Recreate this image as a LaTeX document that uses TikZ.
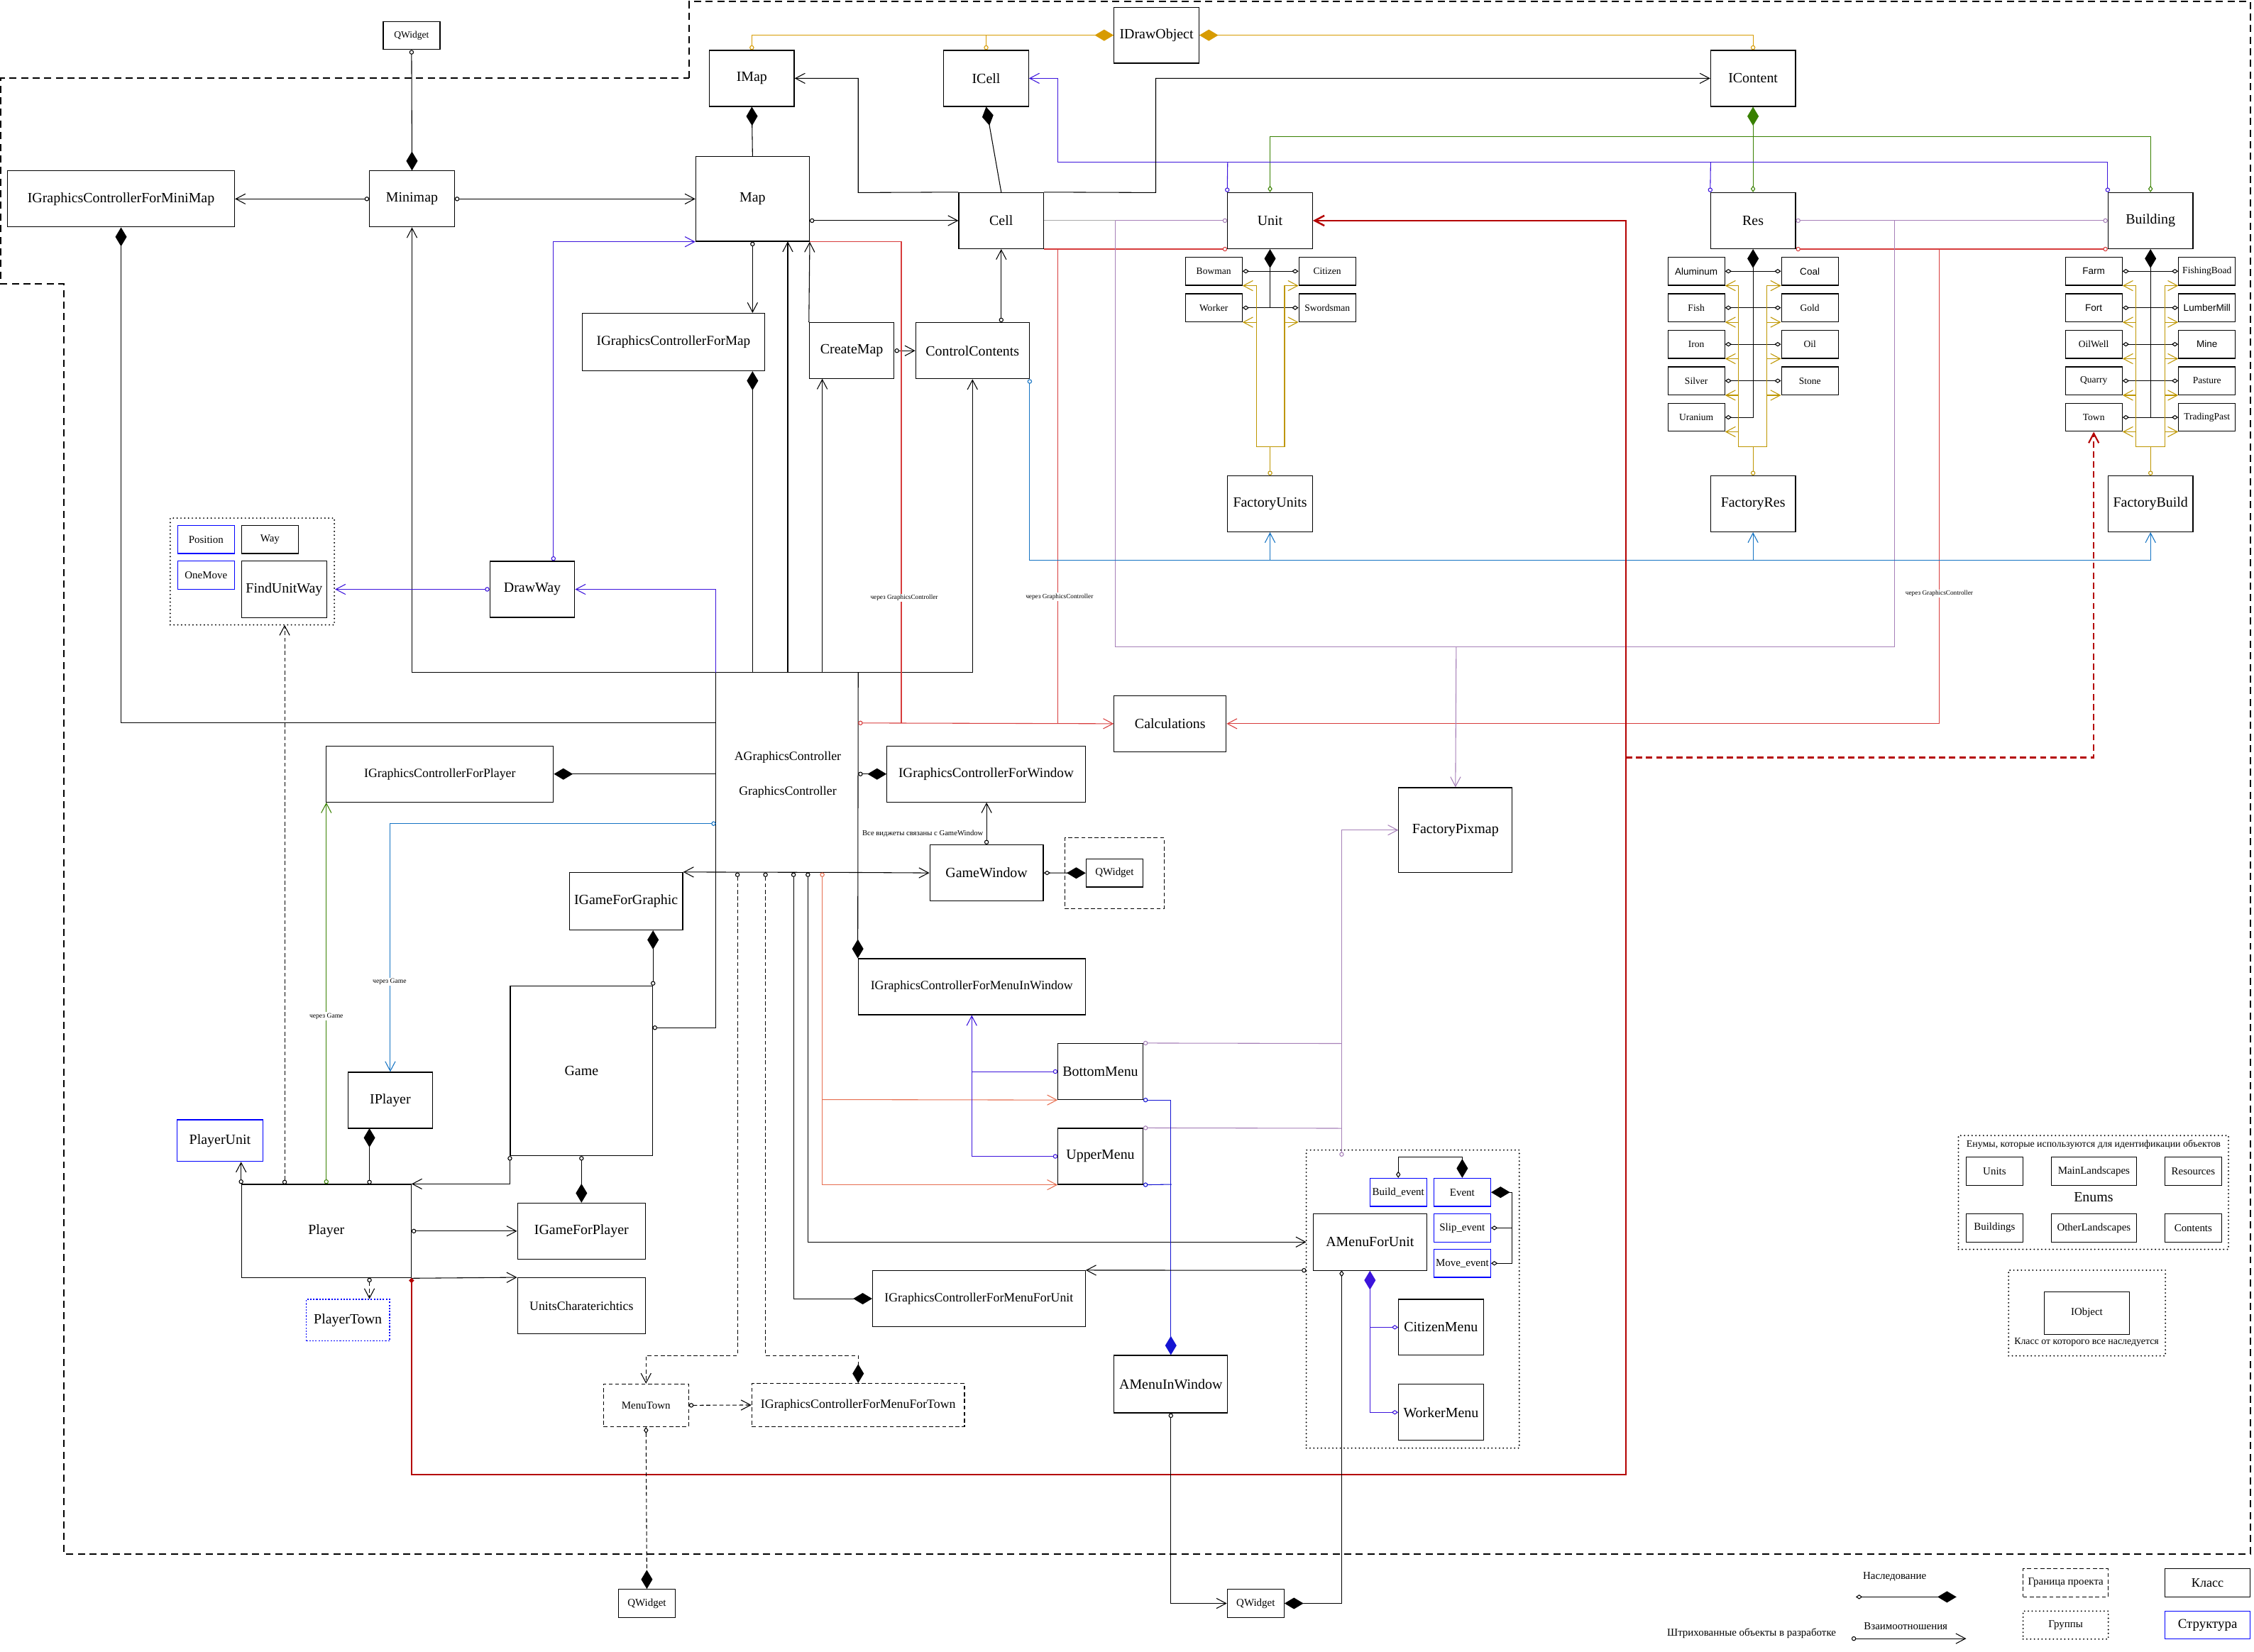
\documentclass[tikz,border=0pt]{standalone}
\usepackage{fontspec}
\setmainfont{Liberation Serif}
\newfontfamily\arialf{Liberation Sans}
\usetikzlibrary{arrows.meta, positioning, calc}

\definecolor{gld}{RGB}{215,155,0}
\definecolor{grn}{RGB}{56,128,0}
\definecolor{vio}{RGB}{60,20,220}
\definecolor{bluD}{RGB}{20,20,210}
\definecolor{lav}{RGB}{166,128,184}
\definecolor{rdl}{RGB}{215,60,60}
\definecolor{rdd}{RGB}{180,0,0}
\definecolor{blu}{RGB}{20,115,195}
\definecolor{yel}{RGB}{190,150,0}
\definecolor{sal}{RGB}{230,110,80}
\definecolor{gry}{RGB}{170,170,170}
\definecolor{strc}{RGB}{0,0,255}

\newcommand\fbig{\fontsize{5.6}{6.2}\selectfont}
\newcommand\fmed{\fontsize{5}{5.6}\selectfont}
\newcommand\fmid{\fontsize{4.2}{4.8}\selectfont}
\newcommand\fnote{\fontsize{3.9}{4.5}\selectfont}
\newcommand\fsm{\fontsize{3.8}{4.3}\selectfont}
\newcommand\ftiny{\fontsize{2.6}{3}\selectfont}

\tikzset{
    oarr/.tip={Straight Barb[length=3.8pt,width=4pt]},
    circ/.tip={Circle[open,length=1.8pt]},
    odia/.tip={Diamond[open,length=2.6pt,width=1.8pt]},
    fdia/.tip={Diamond[length=7.5pt,width=4.5pt]},
    cls/.style={draw, line width=0.35pt, inner sep=0pt, font=\fbig, minimum width=1.18cm, minimum height=0.78cm},
    sub/.style={draw, line width=0.35pt, inner sep=0pt, font=\fmid, minimum width=0.79cm, minimum height=0.39cm},
    leaf/.style={sub, font=\fsm},
    strct/.style={draw=strc},
    wip/.style={dash pattern=on 1.6pt off 1pt},
    grp/.style={draw, line width=0.6pt, line cap=round, dash pattern=on 0pt off 1.5pt},
    border/.style={line width=0.6pt, dash pattern=on 2.8pt off 1.8pt},
    lbl/.style={font=\ftiny, fill=white, inner sep=0.4pt}
}

\begin{document}
\begin{tikzpicture}[x=0.02cm, y=-0.02cm, line width=0.3pt]
\useasboundingbox (0,0) rectangle (1568,1149);

% project border
\draw[border] (479.5,54.3) -- (479.5,1) -- (1565.5,1) -- (1565.5,1081) -- (44.3,1081) -- (44.3,197.5) -- (0.6,197.5) -- (0.6,54.3) -- cycle;

% top classes
\node[leaf] (qwtop) at (286.3,24.7) {QWidget};
\node[cls] (idraw) at (804.5,24.5) {IDrawObject};
\node[cls] (imap) at (523,54.5) {IMap};
\node[cls] (icell) at (686,54.5) {ICell};
\node[cls] (icontent) at (1219.5,54.5) {IContent};
\node[cls, minimum width=3.16cm] (gcmini) at (84.2,138.4) {IGraphicsControllerForMiniMap};
\node[cls] (minimap) at (286.6,138.4) {Minimap};
\node[cls, minimum width=1.58cm, minimum height=1.18cm] (map) at (523.5,138.4) {Map};
\node[cls] (cell) at (696.5,153.5) {Cell};
\node[cls] (unit) at (883.5,153.5) {Unit};
\node[cls] (res) at (1219.5,153.5) {Res};
\node[cls] (building) at (1496,153.5) {Building};

\node[cls, minimum width=2.54cm, minimum height=0.8cm, font=\fontsize{5.4}{6}\selectfont] (gcmap) at (468.5,238) {IGraphicsControllerForMap};
\node[cls] (createmap) at (592.5,244) {CreateMap};
\node[cls, minimum width=1.58cm] (ctrlcont) at (676.5,244) {ControlContents};

% units
\node[leaf] (bowman) at (844.3,188.7) {Bowman};
\node[leaf] (worker) [below=0.106cm of bowman] {Worker};
\node[leaf] (citizen) at (923.3,188.7) {Citizen};
\node[leaf] (swordsman) [below=0.106cm of citizen] {Swordsman};

% resources
\node[leaf, font=\arialf\fsm] (aluminum) at (1180,188.7) {Aluminum};
\node[leaf] (fish) [below=0.106cm of aluminum] {Fish};
\node[leaf] (iron) [below=0.106cm of fish] {Iron};
\node[leaf] (silver) [below=0.106cm of iron] {Silver};
\node[leaf] (uranium) [below=0.106cm of silver] {Uranium};
\node[leaf, font=\arialf\fsm] (coal) at (1259,188.7) {Coal};
\node[leaf] (gold) [below=0.106cm of coal] {Gold};
\node[leaf] (oil) [below=0.106cm of gold] {Oil};
\node[leaf] (stone) [below=0.106cm of oil] {Stone};

% buildings
\node[leaf, font=\arialf\fsm] (farm) at (1456.5,188.7) {Farm};
\node[leaf, font=\arialf\fsm] (fort) [below=0.106cm of farm] {Fort};
\node[leaf] (oilwell) [below=0.106cm of fort] {OilWell};
\node[leaf] (quarry) [below=0.106cm of oilwell] {Quarry};
\node[leaf] (town) [below=0.106cm of quarry] {Town};
\node[leaf] (fishing) at (1535.3,188.7) {FishingBoad};
\node[leaf, font=\arialf\fsm] (lumber) [below=0.106cm of fishing] {LumberMill};
\node[leaf, font=\arialf\fsm] (mine) [below=0.106cm of lumber] {Mine};
\node[leaf] (pasture) [below=0.106cm of mine] {Pasture};
\node[leaf] (trading) [below=0.106cm of pasture] {TradingPast};

\node[cls] (factunits) at (883.5,350.5) {FactoryUnits};
\node[cls] (factres) at (1219.5,350.5) {FactoryRes};
\node[cls] (factbuild) at (1496,350.5) {FactoryBuild};

% path finding group
\node[grp, minimum width=2.284cm, minimum height=1.486cm] (fuwgrp) at (175.5,397.6) {};
\node[sub, strct] (position) at (143.3,375.3) {Position};
\node[sub] (way) at (187.8,375.3) {Way};
\node[sub, strct] (onemove) at (143.3,400.1) {OneMove};
\node[cls, minimum width=1.186cm, minimum height=0.79cm] (findway) at (197.7,410) {FindUnitWay};
\node[cls] (drawway) at (370.3,410) {DrawWay};

% graphics controller
\node[cls, minimum width=1.56cm] (calc) at (814,503.5) {Calculations};
\node[font=\fmed] (agc) at (548,527) {AGraphicsController};
\node[font=\fmed] (gc) at (548,551) {GraphicsController};
\node[cls, minimum width=3.16cm, font=\fmed] (gcplayer) at (306,538.5) {IGraphicsControllerForPlayer};
\node[cls, minimum width=2.76cm, font=\fontsize{5.4}{6}\selectfont] (gcwindow) at (686,538.5) {IGraphicsControllerForWindow};
\node[cls, minimum width=1.58cm, minimum height=1.18cm] (factpix) at (1012.5,577.5) {FactoryPixmap};
\node[cls, minimum width=1.58cm] (gamewin) at (686.3,607.3) {GameWindow};
\node[draw, wip, minimum width=1.386cm, minimum height=0.988cm] (qwgrp) at (775.3,607.4) {};
\node[sub] (qwwin) at (775.3,607.4) {QWidget};
\node[font=\fontsize{3}{3.5}\selectfont] (gwnote) at (641.9,580.1) {Все виджеты связаны с GameWindow};
\node[cls, minimum width=1.58cm, minimum height=0.8cm] (igfg) at (435.5,627) {IGameForGraphic};
\node[cls, minimum width=3.16cm, font=\fmed] (gcmenuwin) at (676,686.5) {IGraphicsControllerForMenuInWindow};

% game and player
\node[cls, minimum width=1.98cm, minimum height=2.36cm] (game) at (404.5,745) {Game};
\node[cls] (bottommenu) at (765.5,745.5) {BottomMenu};
\node[cls] (uppermenu) at (765.5,804.5) {UpperMenu};
\node[cls] (iplayer) at (271.5,765.5) {IPlayer};
\node[cls, strct, minimum width=1.2cm, minimum height=0.58cm] (playerunit) at (153,793.5) {PlayerUnit};
\node[cls, minimum width=2.36cm, minimum height=1.3cm] (player) at (227,856.5) {Player};
\node[cls, minimum width=1.78cm] (igfplayer) at (404.5,856.5) {IGameForPlayer};
\node[cls, minimum width=1.78cm, font=\fmed] (unitschar) at (404.5,908.5) {UnitsCharaterichtics};
\node[cls, draw=strc, dash pattern=on 0.6pt off 0.6pt, minimum width=1.16cm, minimum height=0.58cm] (playertown) at (242,918.5) {PlayerTown};

% menu for unit group
\node[grp, minimum width=2.964cm, minimum height=4.148cm] (amgrp) at (982.8,903.8) {};
\node[cls, minimum width=1.58cm, minimum height=0.788cm] (amenufu) at (953,864.1) {AMenuForUnit};
\node[sub, strct] (buildev) at (972.7,829.5) {Build\_event};
\node[sub, strct] (event) at (1017.2,829.5) {Event};
\node[sub, strct] (slipev) at (1017.2,854.3) {Slip\_event};
\node[sub, strct] (moveev) at (1017.2,878.9) {Move\_event};
\node[cls] (citizenmenu) at (1002.4,923.4) {CitizenMenu};
\node[cls] (workermenu) at (1002.4,982.6) {WorkerMenu};

\node[cls, minimum width=2.96cm, font=\fmed] (gcmenuunit) at (681,903.5) {IGraphicsControllerForMenuForUnit};
\node[cls, minimum width=1.58cm, minimum height=0.8cm] (amenuwin) at (814.5,963) {AMenuInWindow};
\node[sub, wip, minimum width=1.184cm, minimum height=0.592cm] (menutown) at (449.4,977.7) {MenuTown};
\node[cls, wip, minimum width=2.96cm, minimum height=0.6cm, font=\fmed] (gcmenutown) at (597,977.5) {IGraphicsControllerForMenuForTown};
\node[sub] (qwbot1) at (450,1115.5) {QWidget};
\node[sub] (qwbot2) at (873.5,1115.5) {QWidget};

% enums and base object
\node[grp, minimum width=3.758cm, minimum height=1.584cm] (enumgrp) at (1456.3,829.6) {};
\node[font=\fnote] (enumnote) at (1456.4,796.3) {Енумы, которые используются для идентификации объектов};
\node[font=\fbig] (enums) at (1456.4,832.7) {Enums};
\node[sub] (eunits) at (1387.5,814.8) {Units};
\node[sub, minimum width=1.184cm] (emain) at (1456.6,814.8) {MainLandscapes};
\node[sub] (eres) at (1525.7,814.8) {Resources};
\node[sub] (ebuild) at (1387.5,854.3) {Buildings};
\node[sub, minimum width=1.184cm] (eother) at (1456.6,854.3) {OtherLandscapes};
\node[sub] (econt) at (1525.7,854.3) {Contents};
\node[grp, minimum width=2.182cm, minimum height=1.192cm] (objgrp) at (1451.8,913.5) {};
\node[sub, minimum width=1.186cm, minimum height=0.592cm] (iobject) at (1451.7,913.5) {IObject};
\node[font=\fnote] (objnote) at (1451.5,934) {Класс от которого все наследуется};

% legend
\node[font=\fmid] (lginh) at (1318,1097) {Наследование};
\coordinate (lga) at (1291,1111);
\coordinate (lgb) at (1361,1111);
\node[font=\fmid] (lgrel) at (1325.7,1131.4) {Взаимоотношения};
\coordinate (lgc) at (1288,1140);
\coordinate (lgd) at (1367.8,1140);
\node[font=\fmid] (lgwip) at (1218.5,1136.3) {Штрихованные объекты в разработке};
\node[sub, wip, minimum width=1.186cm] (lgborder) at (1437,1101.2) {Граница проекта};
\node[sub, grp, minimum width=1.186cm] (lggroup) at (1437,1130.6) {Группы};
\node[cls, minimum width=1.186cm, minimum height=0.39cm, font=\fontsize{5.1}{6}\selectfont] (lgclass) at (1535.7,1101.2) {Класс};
\node[cls, strct, minimum width=1.186cm, minimum height=0.39cm, font=\fontsize{5.3}{6}\selectfont] (lgstruct) at (1535.7,1130.6) {Структура};
\draw[odia-fdia] (lga) -- (lgb);
\draw[circ-oarr] (lgc) -- (lgd);

% IDrawObject
\draw[gld, circ-fdia] (imap.north) |- (idraw.west);
\draw[gld, circ-] (icell.north) -- (686,24.5);
\draw[gld, circ-fdia] (icontent.north) |- (idraw.east);

% interfaces
\draw[fdia-] (imap.south) -- (map.north);
\draw[fdia-] (icell.south) -- (cell.north);
\draw[grn, fdia-odia] (icontent.south) -- (res.north);
\draw[grn, odia-odia] (unit.north) -- (883.5,95) -- (1496,95) -- (building.north);
\draw[vio, oarr-circ] (icell.east) -| (736,113) -| (building.north west);
\draw[vio, circ-] (unit.north west) -- (854,113);
\draw[vio, circ-] (res.north west) -- (1190,113);

% cell
\draw[oarr-] (imap.east) -| (597,134) -- (cell.north west);
\draw[-oarr] (cell.north east) -- (804,134) |- (icontent.west);
\draw[circ-oarr] (map.east |- cell.west) -- (cell.west);
\draw[circ-oarr] (ctrlcont.north -| cell.south) -- (cell.south);
\draw[circ-oarr] (createmap.east) -- (ctrlcont.west);
\draw[-oarr] (createmap.north west) -- (map.south east);
\draw[circ-oarr] (map.south) -- (map.south |- gcmap.north);
\draw[fdia-] (map.south |- gcmap.south) -- (523.5,468);

% minimap
\draw[circ-fdia] (qwtop.south) -- (minimap.north);
\draw[circ-oarr] (minimap.west) -- (gcmini.east);
\draw[circ-oarr] (minimap.east) -- (map.west);
\draw[fdia-] (gcmini.south) |- (498,503);

% bus
\draw (286.6,468) -- (676.5,468);
\draw[-oarr] (286.6,468) -- (minimap.south);
\draw[-oarr] (548,468) -- (548,168);
\draw[-oarr] (572,468) -- (572,263.5);
\draw[-oarr] (676.5,468) -- (ctrlcont.south);
\draw[circ-] (454,715) -| (498,468);
\draw[-fdia] (597,468) -- (gcmenuwin.north west);

% calculations
\draw[rdl] (map.south east) -| (627,503);
\draw[rdl, circ-oarr] (597,503) -- (calc.west);
\draw[rdl, circ-] (unit.south west) -- (cell.south east);
\draw[rdl] (736,173) -- (736,503);
\draw[rdl, circ-circ] (res.south east) -- (building.south west);
\draw[rdl, -oarr] (1349,173) |- (calc.east);
\node[lbl] at (629,415.8) {через GraphicsController};
\node[lbl] at (737,415.2) {через GraphicsController};
\node[lbl] at (1349,412.9) {через GraphicsController};

% pixmap
\draw[gry] (cell.east) -- (776,153.5);
\draw[lav, circ-] (unit.west) -- (776,153.5);
\draw[lav] (776,153.5) |- (1318,450) -- (1318,153.5);
\draw[lav, circ-circ] (res.east) -- (building.west);
\draw[lav, -oarr] (1013,450) -- (factpix.north);

% factories
\draw[blu, circ-] (ctrlcont.south east) |- (1496,390);
\draw[blu, -oarr] (883.5,390) -- (factunits.south);
\draw[blu, -oarr] (1219.5,390) -- (factres.south);
\draw[blu, -oarr] (1496,390) -- (factbuild.south);

\draw[fdia-] (unit.south) -- (unit.south |- worker.east);
\draw[odia-odia] (bowman.east) -- (citizen.west);
\draw[odia-odia] (worker.east) -- (swordsman.west);
\draw[yel, circ-] (factunits.north) -- (883.5,311);
\draw[yel] (874,311) -- (893.6,311);
\foreach \n in {bowman,worker} \draw[yel, -oarr] (874,311) |- (\n.south east);
\foreach \n in {citizen,swordsman} \draw[yel, -oarr] (893.6,311) |- (\n.south west);

\draw[fdia-odia] (res.south) |- (uranium.east);
\foreach \l/\r in {aluminum/coal,fish/gold,iron/oil,silver/stone} \draw[odia-odia] (\l.east) -- (\r.west);
\draw[yel, circ-] (factres.north) -- (1219.5,311);
\draw[yel] (1209.5,311) -- (1229,311);
\foreach \n in {aluminum,fish,iron,silver,uranium} \draw[yel, -oarr] (1209.5,311) |- (\n.south east);
\foreach \n in {coal,gold,oil,stone} \draw[yel, -oarr] (1229,311) |- (\n.south west);

\draw[fdia-] (building.south) -- (building.south |- town.east);
\foreach \l/\r in {farm/fishing,fort/lumber,oilwell/mine,quarry/pasture,town/trading} \draw[odia-odia] (\l.east) -- (\r.west);
\draw[yel, circ-] (factbuild.north) -- (1496,311);
\draw[yel] (1486,311) -- (1506,311);
\foreach \n in {farm,fort,oilwell,quarry,town} \draw[yel, -oarr] (1486,311) |- (\n.south east);
\foreach \n in {fishing,lumber,mine,pasture,trading} \draw[yel, -oarr] (1506,311) |- (\n.south west);

% draw way
\draw[vio, circ-oarr] (drawway.west) -- (fuwgrp.east |- drawway.west);
\draw[vio, circ-oarr] (385,390.2) |- (map.south west);
\draw[vio, -oarr] (498,468) |- (drawway.east);
\draw[wip, circ-oarr] (198,824) -- (198,434.8);

% window
\draw[-fdia] (498,538.5) -- (gcplayer.east);
\draw[circ-fdia] (597,538.5) -- (gcwindow.west);
\draw[circ-oarr] (gamewin.north) -- (gamewin.north |- gcwindow.south);
\draw[odia-fdia] (gamewin.east) -- (qwwin.west);
\draw[-oarr] (597,607) -- (gamewin.west);
\draw[-oarr] (597,607) -- (igfg.north east);
\draw[wip, circ-oarr] (513,607) -- (513,943) -| (menutown.north);
\draw[wip, circ-fdia] (532.5,607) -- (532.5,943) -| (gcmenutown.north);
\draw[circ-fdia] (552,607) |- (gcmenuunit.west);
\draw[circ-oarr] (562,607) |- (908.7,864.1);
\draw[sal, circ-oarr] (572,607) |- (uppermenu.south west);
\draw[sal, -oarr] (572,765) -- (bottommenu.south west);

% game
\draw[fdia-circ] (igfg.south -| game.north east) -- (game.north east);
\draw[fdia-circ] (igfplayer.north) -- (game.south);
\draw[circ-oarr] (game.south west) |- (player.north east);
\draw[circ-oarr] (player.north west) -- (playerunit.south -| player.north west);
\draw[fdia-circ] (257,785) -- (257,824);
\draw[grn, circ-oarr] (player.north) -- (gcplayer.south -| player.north);
\node[lbl, font=\fontsize{2.7}{3}\selectfont] at (227,707) {через Game};
\draw[blu, circ-oarr] (498,573) -| (iplayer.north);
\node[lbl, font=\fontsize{2.7}{3}\selectfont] at (271,683) {через Game};
\draw[circ-oarr] (player.east) -- (igfplayer.west);
\draw[-oarr] (player.south east) -- (unitschar.north west);
\draw[wip, circ-oarr] (257,889) -- (playertown.north -| 257,889);
\draw[rdd, line width=0.7pt, circ-oarr] (player.south east) |- (1131,1026) |- (unit.east);
\draw[rdd, line width=0.6pt, dash pattern=on 2.5pt off 1.5pt, -oarr] (1131,527) -| (town.south);

% menus
\draw[vio, circ-oarr] (bottommenu.west) -| (gcmenuwin.south);
\draw[vio, circ-] (uppermenu.west) -| (gcmenuwin.south);
\draw[lav, circ-] (bottommenu.north east) -- (933.3,726);
\draw[lav, circ-] (uppermenu.north east) -- (933.3,785);
\draw[lav, circ-oarr] (933.3,804.7) |- (factpix.west);
\draw[bluD, circ-fdia] (bottommenu.south east) -| (amenuwin.north);
\draw[bluD, circ-] (uppermenu.south east) -- (815,824);

% menu for unit
\draw[circ-oarr] (908.7,883.8) -- (gcmenuunit.north east);
\draw[odia-fdia] (933.3,883.8) |- (qwbot2.east);
\draw[circ-oarr] (amenuwin.south) |- (qwbot2.west);
\draw[vio, fdia-odia] (amenufu.south) |- (workermenu.west);
\draw[vio, odia-] (citizenmenu.west) -- (953,923.4);
\draw[odia-fdia] (buildev.north) -- (972.7,805) -| (event.north);
\draw[fdia-odia] (event.east) -| (1051.7,878.9) -- (moveev.east);
\draw[odia-] (slipev.east) -- (1051.7,854.3);

% town menu
\draw[wip, circ-oarr] (menutown.east) -- (gcmenutown.west);
\draw[wip, odia-fdia] (menutown.south) -- (qwbot1.north);
\end{tikzpicture}
\end{document}
